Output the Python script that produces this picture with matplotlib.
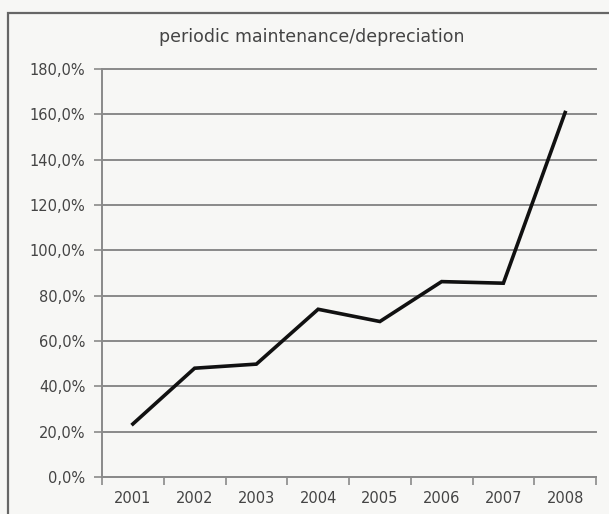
import matplotlib.pyplot as plt
import matplotlib.ticker as mtick
from matplotlib.patches import Rectangle

# Dados
anos = ["2001", "2002", "2003", "2004", "2005", "2006", "2007", "2008"]
valores = [23.4, 48.0, 49.8, 74.0, 68.6, 86.2, 85.5, 160.8]
ticks_y = [0, 20, 40, 60, 80, 100, 120, 140, 160, 180]

cor_texto = "#444444"
cor_grade = "#8a8a8a"

fig = plt.figure(figsize=(6.09, 5.14), dpi=100, facecolor="#f7f7f5")
ax = fig.add_axes([102 / 609, 1 - 477 / 514, 494 / 609, 408 / 514])
ax.set_facecolor("#f7f7f5")

# Moldura externa do gráfico (cortada pela borda da imagem)
fig.patches.append(Rectangle((8 / 609, -0.2), 1.2, 1.2 - 13 / 514,
                             transform=fig.transFigure, fill=False,
                             edgecolor="#666666", linewidth=1.6))

x = list(range(len(anos)))
ax.plot(x, valores, color="#111111", linewidth=2.6, solid_joinstyle="miter")

ax.set_xlim(-0.5, len(anos) - 0.5)
ax.set_ylim(0, 180)

ax.set_yticks(ticks_y)
ax.yaxis.set_major_formatter(mtick.FuncFormatter(lambda v, _: f"{v:.1f}%".replace(".", ",")))
ax.grid(axis="y", color=cor_grade, linewidth=1.4)
ax.set_axisbelow(True)
for linha in ax.get_ygridlines():
    linha.set_clip_on(False)

ax.set_xticks(x)
ax.set_xticklabels(anos)
ax.set_xticks([i - 0.5 for i in range(len(anos) + 1)], minor=True)
ax.tick_params(axis="x", which="major", length=0, pad=10, labelsize=10.5, labelcolor=cor_texto)
ax.tick_params(axis="x", which="minor", length=6, width=1.2, color=cor_grade, direction="out")
ax.tick_params(axis="y", length=6, width=1.2, color=cor_grade, pad=6, labelsize=10.5, labelcolor=cor_texto)

for lado in ["top", "right"]:
    ax.spines[lado].set_visible(False)
for lado in ["left", "bottom"]:
    ax.spines[lado].set_color(cor_grade)
    ax.spines[lado].set_linewidth(1.4)

fig.text(312 / 609, 1 - 37 / 514, "periodic maintenance/depreciation",
         ha="center", va="center", fontsize=12.5, color=cor_texto)

fig.savefig("out.png", dpi=100, facecolor=fig.get_facecolor())
